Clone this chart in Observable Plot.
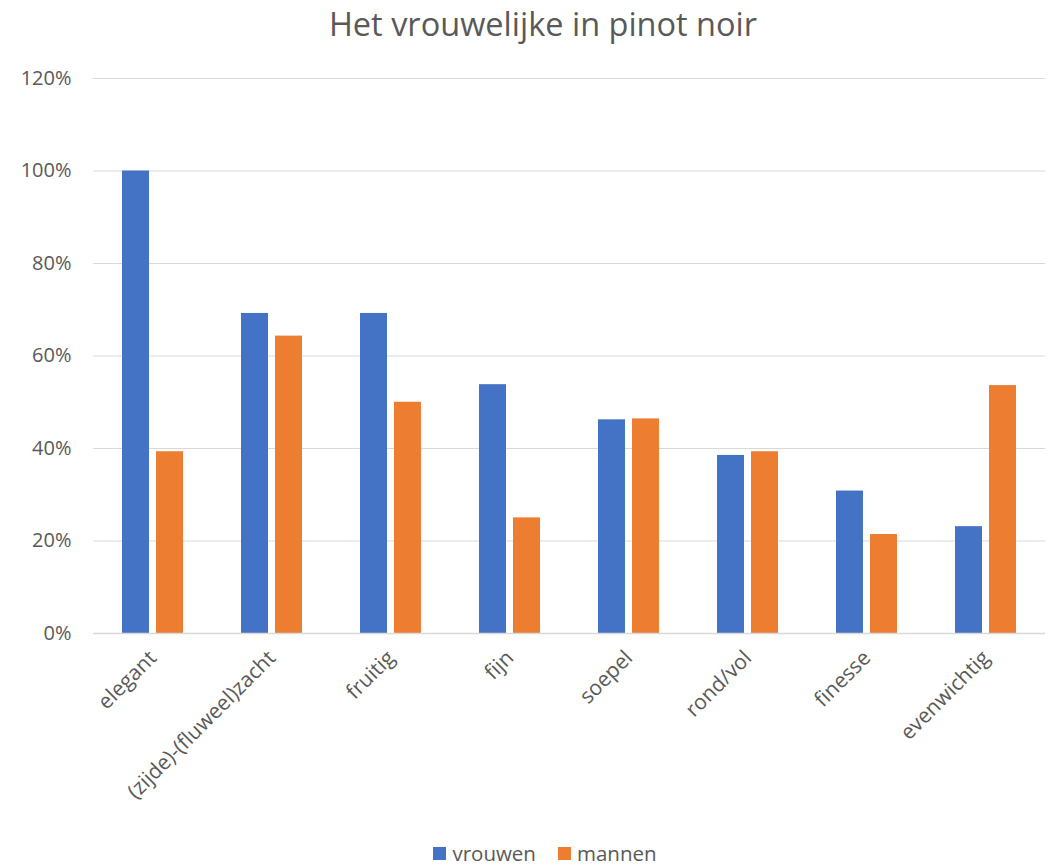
<!DOCTYPE html>
<html>
<head>
<meta charset="utf-8">
<script src="https://cdn.jsdelivr.net/npm/d3@7"></script>
<script src="https://cdn.jsdelivr.net/npm/@observablehq/plot@0.6"></script>
<style>
  body { margin: 0; background: #fff; font-family: "Open Sans", sans-serif; }
  #wrap { width: 1048px; }
  #title { height: 50px; line-height: 48px; text-align: center; font-size: 32.5px; color: #595959; padding-left: 38px; box-sizing: border-box; }
  #legend { display: flex; justify-content: center; align-items: center; gap: 22px; font-size: 20.5px; color: #595959; height: 46px; padding-left: 42px; box-sizing: border-box; }
  .item { display: flex; align-items: center; gap: 6px; }
  .sw { width: 13px; height: 13px; display: inline-block; }
</style>
</head>
<body>
<div id="wrap">
  <div id="title">Het vrouwelijke in pinot noir</div>
  <div id="chart"></div>
  <div id="legend"></div>
</div>
<script>
const categories = ["elegant", "(zijde)-(fluweel)zacht", "fruitig", "fijn", "soepel", "rond/vol", "finesse", "evenwichtig"];
const series = ["vrouwen", "mannen"];
const vrouwen = [1.0, 0.692, 0.692, 0.538, 0.462, 0.385, 0.308, 0.231];
const mannen = [0.393, 0.643, 0.50, 0.25, 0.464, 0.393, 0.214, 0.536];
const colors = ["#4472C4", "#ED7D31"];
const yTicks = [0, 0.2, 0.4, 0.6, 0.8, 1.0, 1.2];

const data = [];
categories.forEach((c, i) => {
  data.push({category: c, series: "vrouwen", value: vrouwen[i]});
  data.push({category: c, series: "mannen", value: mannen[i]});
});

const chart = Plot.plot({
  width: 1048,
  height: 780,
  marginLeft: 90,
  marginRight: 0,
  marginTop: 28,
  marginBottom: 197,
  style: {fontFamily: "Open Sans, sans-serif", fontSize: "20px", color: "#595959", background: "#fff"},
  fx: {domain: categories, padding: 0, label: null},
  x: {domain: series, paddingInner: 0.2, paddingOuter: 0.85, axis: null},
  y: {domain: [0, 1.2], label: null},
  color: {domain: series, range: colors},
  marks: [
    Plot.gridY(yTicks, {stroke: "#d9d9d9", strokeOpacity: 1, strokeWidth: 1}),
    Plot.axisY(yTicks, {tickFormat: d3.format(".0%"), tickSize: 0, tickPadding: 22, label: null, fontSize: 20, fill: "#595959"}),
    Plot.barY(data, {fx: "category", x: "series", y: "value", fill: "series"}),
    Plot.ruleY([0], {stroke: "#d9d9d9", strokeWidth: 1.5}),
    Plot.axisFx({anchor: "bottom", tickRotate: -45, tickSize: 0, tickPadding: 21, label: null, fontSize: 21, fill: "#595959"})
  ]
});
document.getElementById("chart").appendChild(chart);

const legend = document.getElementById("legend");
series.forEach((s, i) => {
  const it = document.createElement("span");
  it.className = "item";
  it.innerHTML = `<span class="sw" style="background:${colors[i]}"></span><span>${s}</span>`;
  legend.appendChild(it);
});
</script>
</body>
</html>
